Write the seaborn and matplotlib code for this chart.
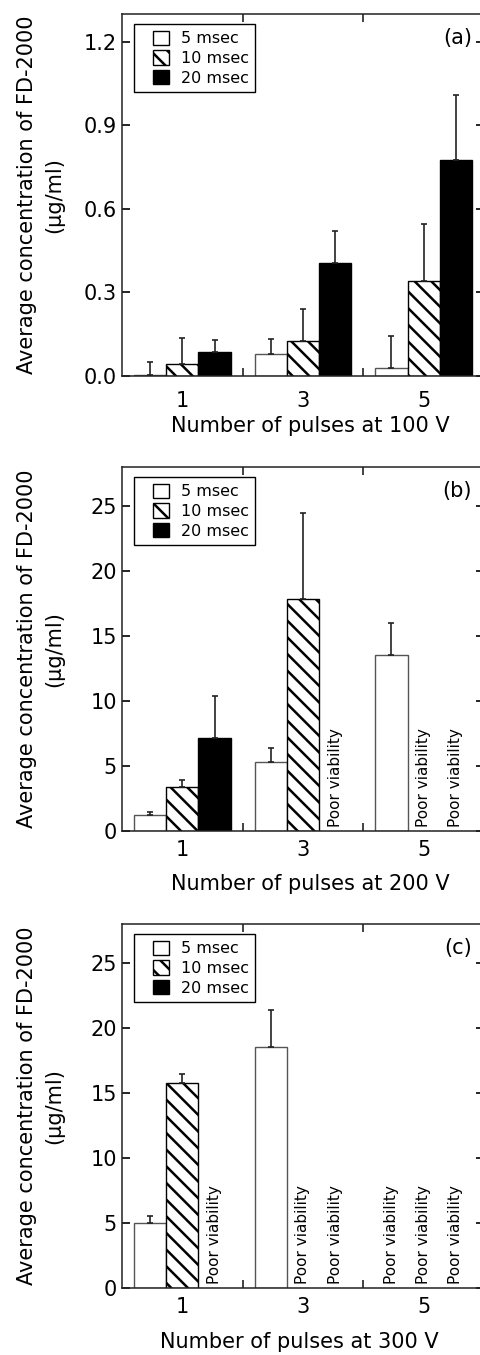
import numpy as np
import pandas as pd
import matplotlib
matplotlib.use("Agg")
import matplotlib.pyplot as plt
from matplotlib.patches import Patch, Rectangle
from matplotlib.legend_handler import HandlerPatch
from matplotlib.ticker import FixedLocator
import seaborn as sns

# ---------------- data ----------------
pulses = ["1", "3", "5"]
durations = ["5 msec", "10 msec", "20 msec"]
voltages = ["100 V", "200 V", "300 V"]
panel_tags = ["(a)", "(b)", "(c)"]

# Panel (a): 100 V   (None = poor viability)
a_5 = [0.005, 0.078, 0.029]
a_5_err = [0.045, 0.055, 0.114]
a_10 = [0.042, 0.127, 0.341]
a_10_err = [0.093, 0.114, 0.205]
a_20 = [0.085, 0.405, 0.774]
a_20_err = [0.045, 0.116, 0.236]

# Panel (b): 200 V
b_5 = [1.23, 5.33, 13.54]
b_5_err = [0.25, 1.08, 2.43]
b_10 = [3.38, 17.87, None]
b_10_err = [0.54, 6.61, None]
b_20 = [7.18, None, None]
b_20_err = [3.23, None, None]

# Panel (c): 300 V
c_5 = [5.01, 18.53, None]
c_5_err = [0.52, 2.88, None]
c_10 = [15.8, None, None]
c_10_err = [0.65, None, None]
c_20 = [None, None, None]
c_20_err = [None, None, None]

yticks_a = [0.0, 0.3, 0.6, 0.9, 1.2]
yticks_bc = [0, 5, 10, 15, 20, 25]
ylim_a = 1.30
ylim_bc = 28.0

# ---------------- style ----------------
sns.set_style("white")
plt.rcParams["font.family"] = ["DejaVu Sans"]
plt.rcParams["hatch.linewidth"] = 1.8
plt.rcParams["axes.linewidth"] = 1.1
for k in ["text.color", "axes.labelcolor", "xtick.color", "ytick.color"]:
    plt.rcParams[k] = "black"

fill = {"5 msec": "white", "10 msec": "white", "20 msec": "black"}
edge = {"5 msec": "#555555", "10 msec": "black", "20 msec": "black"}


def square_handle(legend, orig_handle, xdescent, ydescent, width, height, fontsize):
    side = height * 1.12
    return Rectangle((-xdescent + width - side, -ydescent), side, height)


W, H = 480, 1355
fig = plt.figure(figsize=(W / 100, H / 100), dpi=100)

left_px, right_px = 122, 484
panels = [
    dict(top=14, bottom=376, series=[a_5, a_10, a_20], errs=[a_5_err, a_10_err, a_20_err],
         yticks=yticks_a, ylim=ylim_a, fmt="{:.1f}", xpad=11, xlab_y=-0.110, xlab_x=0.519),
    dict(top=467, bottom=831, series=[b_5, b_10, b_20], errs=[b_5_err, b_10_err, b_20_err],
         yticks=yticks_bc, ylim=ylim_bc, fmt="{:d}", xpad=6.5, xlab_y=-0.118, xlab_x=0.519),
    dict(top=924, bottom=1288, series=[c_5, c_10, c_20], errs=[c_5_err, c_10_err, c_20_err],
         yticks=yticks_bc, ylim=ylim_bc, fmt="{:d}", xpad=6.5, xlab_y=-0.121, xlab_x=0.489),
]

bar_w = 0.8
for i, p in enumerate(panels):
    hpx = p["bottom"] - p["top"]
    wpx = right_px - left_px
    ax = fig.add_axes([left_px / W, 1 - p["bottom"] / H, wpx / W, hpx / H])

    rows, missing = [], []
    for hi, (d, vals, es) in enumerate(zip(durations, p["series"], p["errs"])):
        for ci, (pl, v, e) in enumerate(zip(pulses, vals, es)):
            if v is None:
                missing.append((ci, hi))
            else:
                rows.append(dict(pulses=pl, duration=d, conc=v, err=e))
    df = pd.DataFrame(rows)

    sns.barplot(data=df, x="pulses", y="conc", hue="duration", order=pulses,
                hue_order=durations, palette=fill, errorbar=None, width=bar_w,
                dodge=True, ax=ax, legend=False, linewidth=1.0, saturation=1)

    present = [d for d in durations if d in set(df["duration"])]
    conts = [c for c in ax.containers if len(c) > 0]
    xs, ys, es = [], [], []
    for d, cont in zip(present, conts):
        sub = df[df["duration"] == d]
        for bar, (_, row) in zip(cont, sub.iterrows()):
            bar.set_edgecolor(edge[d])
            bar.set_facecolor(fill[d])
            if d == "10 msec":
                bar.set_hatch("\\\\")
            xs.append(bar.get_x() + bar.get_width() / 2)
            ys.append(bar.get_height())
            es.append(row["err"])
    ax.errorbar(xs, ys, yerr=[np.zeros(len(es)), es], fmt="none", ecolor="#222222",
                elinewidth=1.2, capsize=2, capthick=1.2, zorder=1.5)

    # Poor viability labels at empty slots
    slot = bar_w / len(durations)
    for ci, hi in missing:
        x = ci + (hi - (len(durations) - 1) / 2) * slot
        ax.annotate("Poor viability", xy=(x, 0), xytext=(0, 3), textcoords="offset points",
                    rotation=90, ha="center", va="bottom", fontsize=11, color="black")

    ax.set_xlim(-0.5, len(pulses) - 0.5)
    ax.set_ylim(0, p["ylim"])
    ax.set_yticks(p["yticks"])
    ax.set_yticklabels([p["fmt"].format(t) for t in p["yticks"]])
    ax.set_xticks(range(len(pulses)))
    ax.set_xticklabels(pulses)
    ax.xaxis.set_minor_locator(FixedLocator([0.5, 1.5]))
    ax.tick_params(axis="x", which="major", length=0, pad=p["xpad"], labelsize=15,
                   colors="black")
    ax.tick_params(axis="x", which="minor", direction="in", length=6, width=1.2,
                   top=True, bottom=True, colors="#222222")
    ax.tick_params(axis="y", which="major", direction="in", length=6, width=1.2,
                   left=True, right=True, pad=3.6, labelsize=15, colors="black")
    for s in ax.spines.values():
        s.set_visible(True)
        s.set_color("#222222")
        s.set_linewidth(1.1)

    ax.set_xlabel(f"Number of pulses at {voltages[i]}", fontsize=15, color="black")
    ax.xaxis.set_label_coords(p["xlab_x"], p["xlab_y"])
    ax.set_ylabel("Average concentration of FD-2000\n(\u03bcg/ml)", fontsize=15,
                  color="black", linespacing=1.45)
    ax.yaxis.set_label_coords(-(left_px - 64) / wpx, 0.5)

    ax.text((472 - left_px) / wpx, 0.933, panel_tags[i], transform=ax.transAxes,
            ha="right", va="center", fontsize=15, color="black")

    handles = [Patch(facecolor=fill[d], edgecolor="black",
                     hatch="\\\\" if d == "10 msec" else None, linewidth=1.0)
               for d in durations]
    leg = ax.legend(handles, durations, loc="upper left",
                    bbox_to_anchor=(12 / wpx, 1 - 10 / hpx), borderaxespad=0,
                    fontsize=11.5, frameon=True, fancybox=False, framealpha=1,
                    edgecolor="black", handlelength=1.8, handleheight=1.0,
                    handletextpad=0.7, labelspacing=0.25, borderpad=0.42,
                    handler_map={Patch: HandlerPatch(patch_func=square_handle)})
    leg.get_frame().set_linewidth(1.0)
    for t in leg.get_texts():
        t.set_color("black")

fig.savefig("out.png", dpi=100)
